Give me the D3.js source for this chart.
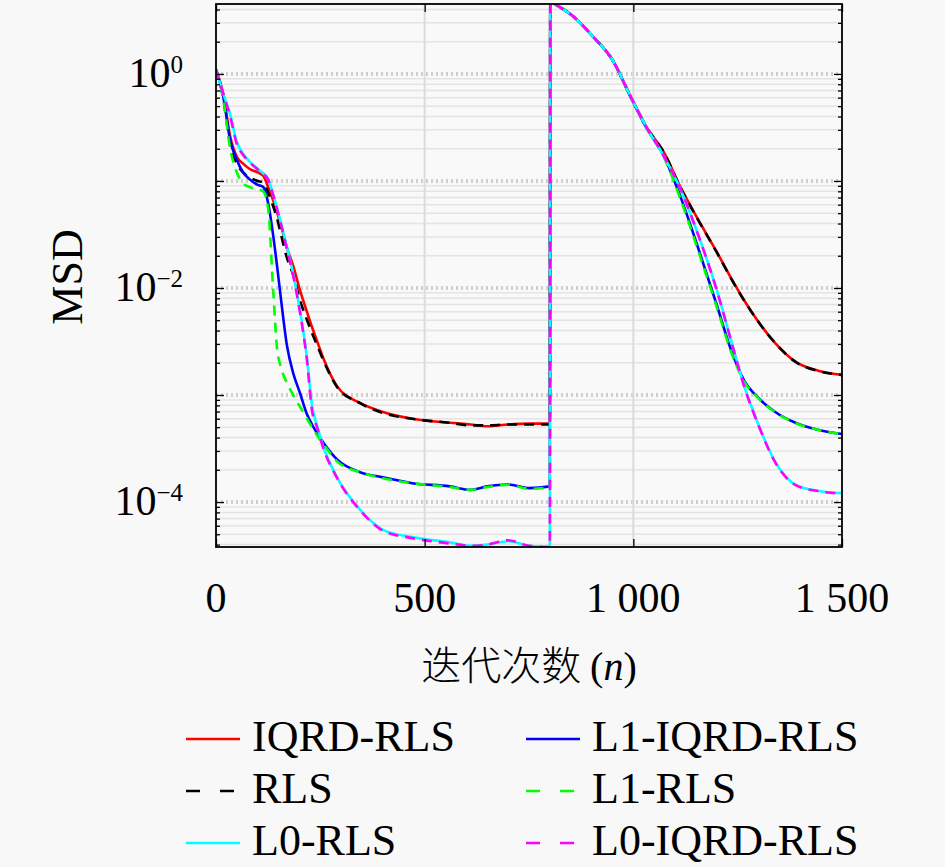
<!DOCTYPE html>
<html>
<head>
<meta charset="utf-8">
<script src="https://cdn.jsdelivr.net/npm/d3@7"></script>
<style>
body{margin:0;background:#f8f8f8;}
</style>
</head>
<body>
<svg id="chart" width="945" height="867"></svg>
<script>
var iterations = [0,17,34,50,65,80,100,113,125,137,146,156,170,185,201,218,230,242,257,290,345,400,470,560,610,650,700,750,800,
  801,820,860,900,950,994,1030,1074,1114,1153,1200,1234,1265,1300,1340,1390,1445,1500];

var iqrdRls = [1.1,0.66,0.26,0.168,0.145,0.13,0.12,0.112,0.088,0.066,0.0515,0.038,0.0237,0.0161,0.00958,0.00597,0.00432,0.0032,0.00222,0.00121,0.000842,0.000694,0.0006,0.00055,0.00053,0.00051,0.00053,0.00054,0.00054,
  4.7,4.3,3.35,2.3,1.35,0.61,0.326,0.183,0.086,0.0451,0.0217,0.0124,0.00772,0.00481,0.00306,0.00203,0.00168,0.00154];
var rls = [1.1,0.6,0.22,0.145,0.12,0.108,0.1,0.096,0.078,0.058,0.045,0.0313,0.0191,0.0132,0.00772,0.00502,0.0038,0.00293,0.00212,0.00119,0.00084,0.00068,0.0006,0.00055,0.00052,0.00052,0.00053,0.00053,0.00053,
  4.7,4.3,3.35,2.3,1.35,0.61,0.326,0.182,0.085,0.0448,0.0215,0.0123,0.0077,0.0048,0.00305,0.00202,0.00167,0.00154];
var l1IqrdRls = [1.1,0.63,0.24,0.157,0.12,0.104,0.092,0.088,0.062,0.031,0.0164,0.0077,0.0029,0.0016,0.00105,0.00066,0.00053,0.00044,0.00036,0.00025,0.00019,0.00017,0.00015,0.00014,0.00013,0.00014,0.000146,0.000135,0.00014,
  4.7,4.3,3.35,2.3,1.35,0.6,0.32,0.168,0.0694,0.0252,0.00693,0.00264,0.00138,0.000937,0.000694,0.000547,0.000471,0.000432];
var l1Rls = [1.1,0.6,0.2,0.12,0.095,0.088,0.083,0.08,0.055,0.0096,0.0028,0.0018,0.0013,0.001,0.00078,0.0006,0.0005,0.00042,0.00035,0.00024,0.00019,0.000167,0.00015,0.000138,0.00013,0.000138,0.000145,0.000133,0.000138,
  4.7,4.3,3.35,2.3,1.35,0.6,0.32,0.165,0.066,0.0238,0.0066,0.00255,0.00135,0.00093,0.00069,0.000545,0.00047,0.00043];
var l0Rls = [1.1,0.66,0.42,0.23,0.18,0.152,0.13,0.118,0.104,0.075,0.056,0.04,0.024,0.0135,0.0062,0.0022,0.0008,0.00052,0.00033,0.00017,0.000085,0.000055,0.000047,0.000042,0.000039,0.00004,0.000043,0.000039,0.000038,
  4.7,4.3,3.35,2.3,1.35,0.61,0.326,0.168,0.0824,0.0334,0.00958,0.00327,0.00124,0.000525,0.000237,0.000144,0.000127,0.000121];
var l0IqrdRls = [1.1,0.66,0.4,0.22,0.175,0.15,0.128,0.117,0.103,0.074,0.055,0.039,0.023,0.013,0.006,0.0021,0.00072,0.0005,0.00032,0.000168,0.000084,0.000054,0.000046,0.000041,0.000039,0.00004,0.000044,0.000039,0.000038,
  4.7,4.3,3.35,2.3,1.35,0.61,0.326,0.168,0.082,0.0332,0.0095,0.00324,0.00122,0.00052,0.000235,0.000143,0.000126,0.00012];

var xTicks = [0,500,1000,1500];
var xTickLabels = ["0","500","1 000","1 500"];
var yTickExponents = [0,-2,-4];

var serif = "'Liberation Serif', 'DejaVu Serif', serif";
var plotLeft = 216, plotRight = 842, plotTop = 4, plotBottom = 547;

var canvas = d3.select("#chart");
canvas.append("rect").attr("width",945).attr("height",867).style("fill","#f8f8f8");

var x = d3.scaleLinear().domain([0,1500]).range([plotLeft,plotRight]);
var y = d3.scaleLog().domain([3.8e-5,4.5]).range([plotBottom,plotTop]);

// drawing order: solid under its dashed twin
var series = [
  {name:"IQRD-RLS", values:iqrdRls, color:"#ff0000", dash:null},
  {name:"RLS", values:rls, color:"#000000", dash:"10,7"},
  {name:"L1-IQRD-RLS", values:l1IqrdRls, color:"#0000ff", dash:null},
  {name:"L1-RLS", values:l1Rls, color:"#00ff00", dash:"10,7"},
  {name:"L0-RLS", values:l0Rls, color:"#00ffff", dash:null},
  {name:"L0-IQRD-RLS", values:l0IqrdRls, color:"#ff00ff", dash:"10,7"}
];
var legendOrder = ["IQRD-RLS","RLS","L0-RLS","L1-IQRD-RLS","L1-RLS","L0-IQRD-RLS"];

/*
Grid: light panel, minor horizontal lines, dotted decade lines, vertical lines at x ticks
*/
canvas.append("rect")
  .attr("x",plotLeft).attr("y",plotTop)
  .attr("width",plotRight-plotLeft).attr("height",plotBottom-plotTop)
  .style("fill","#f9f9f9");

var minorVals = [], majorVals = [];
for (var e = -5; e <= 0; e++) {
  majorVals.push(Math.pow(10,e));
  for (var k = 2; k <= 9; k++) minorVals.push(k*Math.pow(10,e));
}
minorVals = minorVals.filter(function(v){return v>=3.8e-5 && v<=4.5;});
majorVals = majorVals.filter(function(v){return v>=3.8e-5 && v<=4.5;});

canvas.selectAll(".minorGrid")
  .data(minorVals)
  .enter().append("line")
  .attr("class","minorGrid")
  .attr("x1",plotLeft).attr("x2",plotRight)
  .attr("y1",function(d){return y(d);}).attr("y2",function(d){return y(d);})
  .style("stroke","#e4e4e4")
  .style("stroke-width",1.5);

canvas.selectAll(".majorGrid")
  .data(majorVals)
  .enter().append("line")
  .attr("class","majorGrid")
  .attr("x1",plotLeft).attr("x2",plotRight)
  .attr("y1",function(d){return y(d);}).attr("y2",function(d){return y(d);})
  .style("stroke","#cfcfcf")
  .style("stroke-width",4)
  .style("stroke-dasharray","2,3");

canvas.selectAll(".xGrid")
  .data(xTicks.slice(1,3))
  .enter().append("line")
  .attr("class","xGrid")
  .attr("x1",function(d){return x(d);}).attr("x2",function(d){return x(d);})
  .attr("y1",plotTop).attr("y2",plotBottom)
  .style("stroke","#dcdcdc")
  .style("stroke-width",2);

/*
Curves, clipped to the plot box
*/
canvas.append("clipPath").attr("id","plotClip")
  .append("rect")
  .attr("x",plotLeft).attr("y",plotTop)
  .attr("width",plotRight-plotLeft).attr("height",plotBottom-plotTop);

var line = d3.line()
  .x(function(d){return x(d[0]);})
  .y(function(d){return y(d[1]);})
  .curve(d3.curveMonotoneX);

canvas.append("g")
  .attr("clip-path","url(#plotClip)")
  .selectAll("path")
  .data(series)
  .enter().append("path")
  .attr("d",function(d){return line(iterations.map(function(n,i){return [n,d.values[i]];}));})
  .style("fill","none")
  .style("stroke",function(d){return d.color;})
  .style("stroke-width",2.6)
  .style("stroke-dasharray",function(d){return d.dash;});

/*
Axes: inward ticks on all four sides, frame drawn as a rect
*/
function cleanAxis(g){
  g.select(".domain").remove();
  g.selectAll("text").remove();
  g.selectAll("line").style("stroke","#000").style("stroke-width",1.3);
}

canvas.append("g").attr("transform","translate(0,"+plotBottom+")")
  .call(d3.axisBottom(x).tickValues(xTicks).tickSize(-8)).call(cleanAxis);
canvas.append("g").attr("transform","translate(0,"+plotTop+")")
  .call(d3.axisTop(x).tickValues(xTicks).tickSize(-8)).call(cleanAxis);
canvas.append("g").attr("transform","translate("+plotLeft+",0)")
  .call(d3.axisLeft(y).tickValues(minorVals).tickSize(-4)).call(cleanAxis);
canvas.append("g").attr("transform","translate("+plotLeft+",0)")
  .call(d3.axisLeft(y).tickValues(majorVals).tickSize(-8)).call(cleanAxis);
canvas.append("g").attr("transform","translate("+plotRight+",0)")
  .call(d3.axisRight(y).tickValues(minorVals).tickSize(-4)).call(cleanAxis);
canvas.append("g").attr("transform","translate("+plotRight+",0)")
  .call(d3.axisRight(y).tickValues(majorVals).tickSize(-8)).call(cleanAxis);

canvas.append("rect")
  .attr("x",plotLeft).attr("y",plotTop)
  .attr("width",plotRight-plotLeft).attr("height",plotBottom-plotTop)
  .style("fill","none")
  .style("stroke","#000")
  .style("stroke-width",1.8);

// tick labels
canvas.selectAll(".xLabel")
  .data(xTicks)
  .enter().append("text")
  .attr("class","xLabel")
  .attr("x",function(d){return x(d);})
  .attr("y",612)
  .attr("text-anchor","middle")
  .style("font-family",serif)
  .style("font-size","42px")
  .text(function(d,i){return xTickLabels[i];});

var yLabels = canvas.selectAll(".yLabel")
  .data(yTickExponents)
  .enter().append("text")
  .attr("class","yLabel")
  .attr("x",183)
  .attr("y",function(d){return y(Math.pow(10,d))+13;})
  .attr("text-anchor","end")
  .style("font-family",serif)
  .style("font-size","42px");
yLabels.append("tspan").text("10");
yLabels.append("tspan")
  .attr("dy",-14)
  .style("font-size","25px")
  .text(function(d){return d===0 ? "0" : "\u2212"+(-d);});

// axis titles
canvas.append("text")
  .attr("transform","translate(82,277) rotate(-90)")
  .attr("text-anchor","middle")
  .style("font-family",serif)
  .style("font-size","44px")
  .text("MSD");

var xTitle = canvas.append("text")
  .attr("x",529)
  .attr("y",680)
  .attr("text-anchor","middle")
  .style("font-size","40px");
xTitle.append("tspan").style("font-family","'Noto Sans CJK SC', sans-serif").style("font-weight",300).text("迭代次数 ");
xTitle.append("tspan").style("font-family",serif).text("(");
xTitle.append("tspan").style("font-family",serif).style("font-style","italic").text("n");
xTitle.append("tspan").style("font-family",serif).text(")");

/*
Legend: two columns, three rows
*/
var legendItems = canvas.selectAll(".legendItem")
  .data(legendOrder.map(function(n){return series.find(function(s){return s.name===n;});}))
  .enter().append("g")
  .attr("class","legendItem")
  .attr("transform",function(d,i){return "translate("+(i<3 ? 186 : 526)+","+(739 + 52*(i%3))+")";});

legendItems.append("line")
  .attr("x1",0).attr("x2",54)
  .attr("y1",0).attr("y2",0)
  .style("stroke",function(d){return d.color;})
  .style("stroke-width",2.6)
  .style("stroke-dasharray",function(d){return d.dash ? "14,20" : null;});

legendItems.append("text")
  .attr("x",66)
  .attr("y",12)
  .style("font-family",serif)
  .style("font-size","44px")
  .text(function(d){return d.name;});
</script>
</body>
</html>
